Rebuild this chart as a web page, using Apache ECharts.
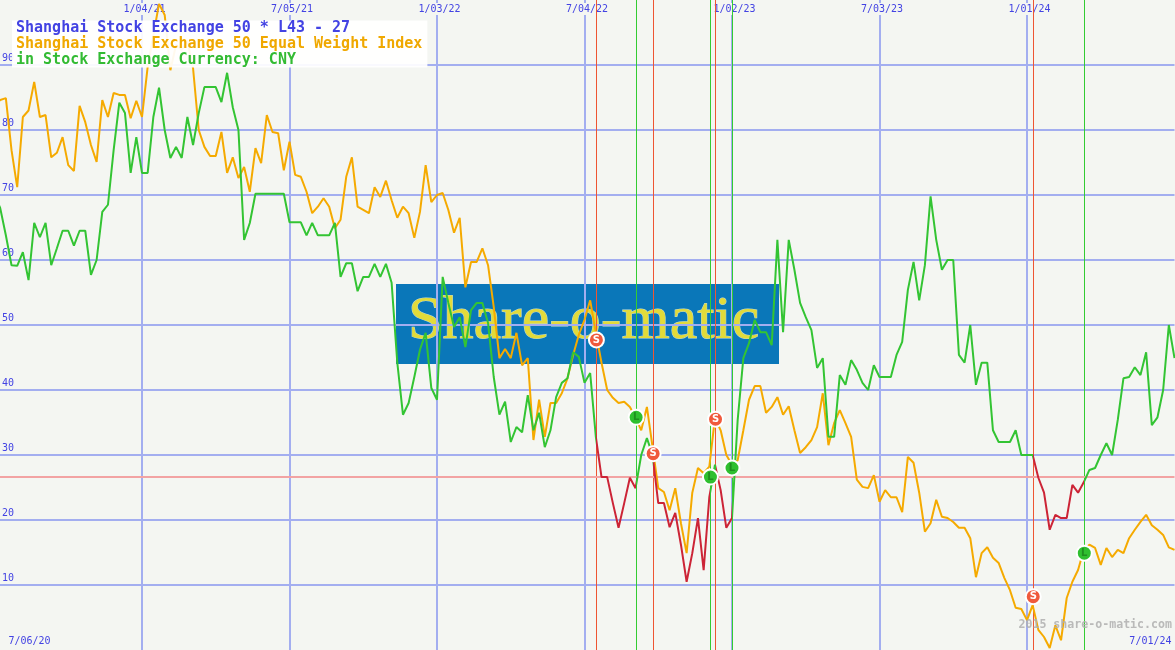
<!DOCTYPE html>
<html>
<head>
<meta charset="utf-8">
<script src="https://cdn.jsdelivr.net/npm/echarts@6/dist/echarts.min.js"></script>
<style>
html,body{margin:0;padding:0;background:#f4f6f2;}
#chart{width:1175px;height:650px;}
</style>
</head>
<body>
<div id="chart"></div>
<script>
// Weekly x positions: index 0 = 7/06/20 ... index 208 = 7/01/24
const dateLabels = ['7/06/20','1/04/21','7/05/21','1/03/22','7/04/22','1/02/23','7/03/23','1/01/24','7/01/24'];
const yTickLabels = ['10','20','30','40','50','60','70','80','90'];

// Shanghai Stock Exchange 50 * L43 - 27 (green / red)
const lineL43 = [
70,68,63.8,59.2,59.1,61.2,56.9,65.7,63.5,65.7,
59.2,61.8,64.5,64.5,62.2,64.5,64.5,57.7,60,67.4,
68.5,76.9,84.2,82.6,73.4,78.9,73.4,73.4,82,86.5,
80,75.7,77.4,75.7,82,77.7,82.6,86.6,86.6,86.6,
84.3,88.8,83.5,80,63.1,65.7,70.2,70.2,70.2,70.2,
70.2,70.2,65.8,65.8,65.8,63.8,65.7,63.8,63.8,63.8,
65.7,57.4,59.5,59.5,55.2,57.4,57.4,59.4,57.4,59.4,
56.5,44.2,36.2,38,42,46.2,48.8,40.3,38.5,57.4,
53.4,49.7,51.2,46.6,52.3,53.4,53.4,50.3,42,36.2,
38.2,32,34.3,33.5,39.2,33.8,36.5,31.2,33.8,38.9,
41.1,41.8,45.8,45.1,41.1,42.6,32.8,26.6,26.6,22.6,
18.8,22.6,26.5,24.9,30,32.6,30,22.6,22.6,18.9,
21.1,16.2,10.5,14.9,20.3,12.3,23.5,28.5,24.6,18.8,
20.3,35.4,44.9,47.2,50.8,48.9,48.9,46.9,63.1,48.9,
63.1,58.5,53.4,51.2,49.2,43.4,44.9,32.8,32.8,42.3,
40.8,44.6,43.1,41.1,40,43.8,42,42,42,45.4,
47.4,55.4,59.7,53.8,59.2,69.8,63.1,58.5,60,60,
45.4,44.2,50,40.8,44.2,44.2,33.8,32,32,32,
33.8,30,30,30,26.5,24.2,18.5,20.8,20.3,20.3,
25.4,24.2,25.8,27.7,28,30,31.8,30,35.4,41.8,
42,43.5,42.3,45.8,34.6,35.8,40,50,44.9
];

// Shanghai Stock Exchange 50 Equal Weight Index (orange)
const lineIndex = [
84,84.6,84.9,76.9,71.2,82,83,87.4,82,82.3,
75.8,76.5,78.9,74.6,73.7,83.7,81.2,77.7,75.1,84.6,
82,85.7,85.4,85.4,81.8,84.5,82,89.7,94.6,99.4,
97.7,89.2,93.1,92.3,93.8,89.5,80,77.4,76,76,
79.7,73.4,75.8,72.6,74.3,70.5,77.2,74.9,82.3,79.7,
79.5,73.8,78.2,73.1,72.8,70.5,67.2,68.2,69.5,68.2,
64.9,66.2,72.8,75.8,68.2,67.7,67.2,71.2,69.7,72.2,
69.2,66.5,68.2,67.2,63.4,67.4,74.6,68.9,70,70.3,
67.7,64.2,66.5,55.8,59.7,59.7,61.8,59.2,52.8,44.9,
46.3,44.9,48.8,43.8,44.9,32.3,38.5,32.8,38,38,
39.5,41.8,45.4,48.5,50.8,53.8,48.8,44.2,40,38.8,
38,38.2,37.4,35.8,33.8,37.4,31.2,24.9,24.3,21.5,
24.9,19.5,14.9,24.2,28,27.2,28.2,35.7,33.8,30,
28.5,29.2,33.8,38.5,40.6,40.6,36.5,37.4,38.9,36.2,
37.5,33.8,30.3,31.2,32.3,34.3,39.5,31.5,34.9,36.9,
34.9,32.8,26.2,25.1,24.9,26.9,22.8,24.6,23.5,23.5,
21.2,29.7,28.8,24.2,18.2,19.5,23.1,20.5,20.3,19.7,
18.8,18.8,17.2,11.2,14.9,15.8,14.2,13.4,11.1,9.2,
6.5,6.3,4.6,6.9,3.1,2,0.3,3.8,1.5,8,
10.5,12.3,15.4,16.2,15.7,13.1,15.7,14.3,15.4,14.9,
17.2,18.5,19.7,20.8,19.2,18.5,17.7,15.8,15.4
];

// Signals (week position, value on marker)
const sellWeeks = [106.1, 116.1, 127.1, 183.1];
const sellValues = [47.7, 30.2, 35.5, 8.2];
const buyWeeks = [113.1, 126.2, 130.0, 192.1];
const buyValues = [35.8, 26.6, 28.0, 14.9];
const threshold = 26.6;

const BG = '#f4f6f2';
const GRIDC = '#a3aef0';
const BLUE = '#4343e3';
const ORANGE = '#f5aa00';
const GREEN = '#33c433';
const RED = '#cc2436';
const MONO = '"DejaVu Sans Mono", "Liberation Mono", monospace';

const chart = echarts.init(document.getElementById('chart'), null, {renderer: 'canvas'});

const redPieces = sellWeeks.map((s, i) => ({gte: s, lte: buyWeeks[i], color: RED}));

const sigLines = [];
sellWeeks.forEach(w => sigLines.push({xAxis: w, lineStyle: {color: '#ee5533', width: 1, type: 'solid'}}));
buyWeeks.forEach(w => sigLines.push({xAxis: w, lineStyle: {color: '#33cc33', width: 1, type: 'solid'}}));
sigLines.push({yAxis: threshold, lineStyle: {color: '#f2a3a3', width: 2, type: 'solid'}});

const option = {
  backgroundColor: BG,
  animation: false,
  title: {
    left: 12, top: 20,
    padding: [0, 5, 0, 4],
    backgroundColor: 'rgba(255,255,255,0.93)',
    text: '{a|Shanghai Stock Exchange 50 * L43 - 27}\n{b|Shanghai Stock Exchange 50 Equal Weight Index}\n{c|in Stock Exchange Currency: CNY}',
    textStyle: {
      rich: {
        a: {color: BLUE, fontFamily: MONO, fontSize: 15, lineHeight: 16},
        b: {color: '#f0a800', fontFamily: MONO, fontSize: 15, lineHeight: 16},
        c: {color: '#33bb33', fontFamily: MONO, fontSize: 15, lineHeight: 16}
      }
    }
  },
  graphic: [
    {
      type: 'rect', z: -10, silent: true,
      shape: {x: 396, y: 284, width: 383, height: 80},
      style: {fill: '#0a77b9'}
    },
    {
      type: 'text', z: -9, silent: true,
      x: 408, y: 291,
      style: {
        text: 'Share-o-matic',
        font: '62px "Liberation Serif", "DejaVu Serif", serif',
        fill: '#e2db3a',
        stroke: 'rgba(250,250,215,0.75)', lineWidth: 1,
        shadowColor: 'rgba(0,0,0,0.6)', shadowBlur: 3, shadowOffsetX: 2, shadowOffsetY: 2
      }
    },
    {
      type: 'text', z: 50, silent: true,
      right: 3, top: 619,
      style: {
        text: '2015 share-o-matic.com',
        font: 'bold 11.6px ' + MONO,
        fill: 'rgba(175,175,175,0.85)'
      }
    }
  ],
  grid: {left: -5.5, right: 0.5, top: 0, bottom: 0, containLabel: false, outerBoundsMode: 'none'},
  xAxis: [
    {
      type: 'value', position: 'top', min: 0, max: 208, interval: 26,
      axisLine: {show: false}, axisTick: {show: false},
      splitLine: {show: true, showMinLine: false, showMaxLine: false, lineStyle: {color: GRIDC, width: 2}},
      axisLabel: {
        inside: true, margin: 3, showMinLabel: false, showMaxLabel: false,
        color: BLUE, fontFamily: MONO, fontSize: 10,
        backgroundColor: BG, padding: [1, 1, 1, 6],
        formatter: v => dateLabels[Math.round(v / 26)]
      }
    },
    {
      type: 'value', position: 'bottom', min: 0, max: 208, interval: 208,
      axisLine: {show: false}, axisTick: {show: false}, splitLine: {show: false},
      axisLabel: {
        inside: true, margin: 4, color: BLUE, fontFamily: MONO, fontSize: 10,
        alignMinLabel: 'left', alignMaxLabel: 'right',
        formatter: v => v === 0 ? '{l|' + dateLabels[0] + '}' : '{r|' + dateLabels[dateLabels.length - 1] + '}',
        rich: {
          l: {color: BLUE, fontFamily: MONO, fontSize: 10, padding: [0, 0, 0, 14]},
          r: {color: BLUE, fontFamily: MONO, fontSize: 10, padding: [0, 3, 0, 0]}
        }
      }
    }
  ],
  yAxis: {
    type: 'value', min: 0, max: 100, interval: 10,
    axisLine: {show: false}, axisTick: {show: false},
    splitLine: {show: true, showMinLine: false, showMaxLine: false, lineStyle: {color: GRIDC, width: 2}},
    axisLabel: {
      inside: true, margin: 7.5, verticalAlign: 'bottom', align: 'left',
      showMinLabel: false, showMaxLabel: false,
      color: BLUE, fontFamily: MONO, fontSize: 10, padding: [0, 0, 2, 0],
      formatter: v => yTickLabels[Math.round(v / 10) - 1]
    }
  },
  visualMap: {
    type: 'piecewise', show: false, dimension: 0, seriesIndex: 1,
    pieces: redPieces,
    outOfRange: {color: GREEN}
  },
  series: [
    {
      name: 'Shanghai Stock Exchange 50 Equal Weight Index',
      type: 'line', xAxisIndex: 0, symbol: 'none', z: 3,
      lineStyle: {color: ORANGE, width: 2},
      itemStyle: {color: ORANGE},
      data: lineIndex.map((v, i) => [i, v]),
      markLine: {
        silent: true, symbol: ['none', 'none'], label: {show: false}, z: 1,
        data: sigLines
      }
    },
    {
      name: 'Shanghai Stock Exchange 50 * L43 - 27',
      type: 'line', xAxisIndex: 0, symbol: 'none', z: 4,
      lineStyle: {width: 2},
      data: lineL43.map((v, i) => [i, v])
    },
    {
      name: 'Sell', type: 'scatter', xAxisIndex: 0, z: 10,
      symbol: 'circle', symbolSize: 15,
      itemStyle: {color: '#f05a3c', borderColor: '#ffffff', borderWidth: 2, opacity: 1},
      label: {show: true, position: 'inside', formatter: 'S', color: '#ffffff', fontSize: 10, fontWeight: 'bold', fontFamily: 'DejaVu Sans'},
      data: sellWeeks.map((w, i) => [w, sellValues[i]])
    },
    {
      name: 'Buy', type: 'scatter', xAxisIndex: 0, z: 10,
      symbol: 'circle', symbolSize: 15,
      itemStyle: {color: '#2fbf2f', borderColor: '#ffffff', borderWidth: 2, opacity: 1},
      label: {show: true, position: 'inside', formatter: 'L', color: '#1f8f1f', fontSize: 10, fontWeight: 'bold', fontFamily: 'DejaVu Sans'},
      data: buyWeeks.map((w, i) => [w, buyValues[i]])
    }
  ]
};
chart.setOption(option);
</script>
</body>
</html>
